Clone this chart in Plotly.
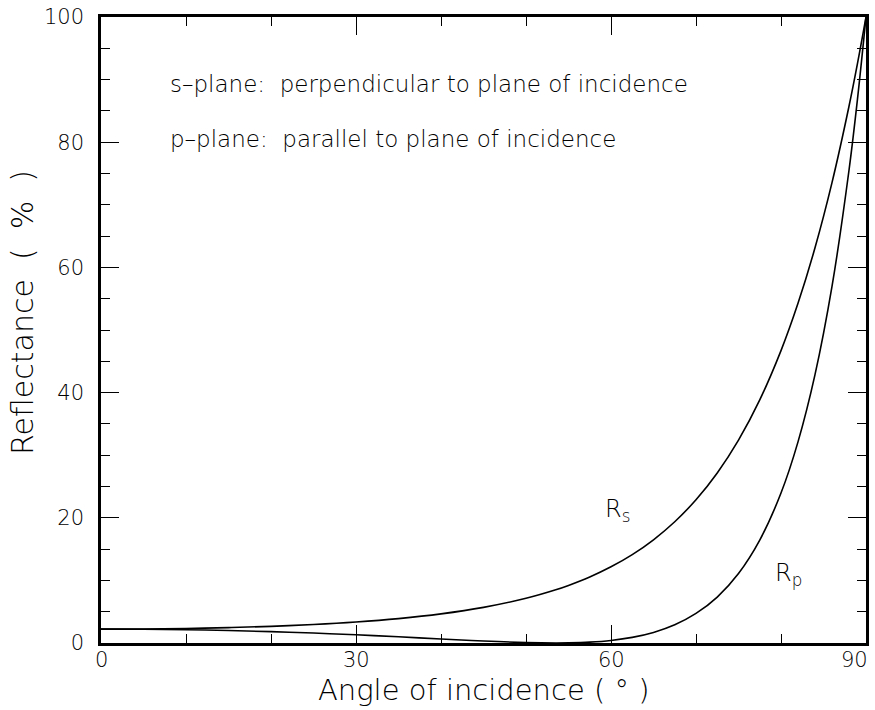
import plotly.graph_objects as go

# Angle of incidence (degrees)
angle = [0, 5, 10, 15, 20, 25, 30, 35, 40, 45, 50, 53.5, 55, 57.5, 60, 62.5, 65,
         67.5, 70, 72.5, 75, 77.5, 80, 82, 84, 86, 88, 89, 90]
# Reflectance (%) s-plane
rs = [2.22, 2.24, 2.32, 2.46, 2.66, 2.95, 3.35, 3.90, 4.65, 5.69, 7.14, 8.50, 9.20,
      10.55, 12.17, 14.12, 16.49, 19.37, 22.88, 27.17, 32.41, 38.84, 46.71, 54.26,
      63.13, 73.54, 85.74, 92.59, 100.0]
# Reflectance (%) p-plane
rp = [2.22, 2.19, 2.12, 1.99, 1.81, 1.59, 1.31, 0.99, 0.65, 0.32, 0.07, 0.0, 0.02,
      0.14, 0.41, 0.90, 1.69, 2.91, 4.72, 7.34, 11.10, 16.44, 23.96, 32.13, 42.86,
      56.96, 75.52, 86.91, 100.0]

x_ticks = [0, 30, 60, 90]
x_labels = ["0", "30", "60", "90"]
y_ticks = [0, 20, 40, 60, 80, 100]
y_labels = ["0", "20", "40", "60", "80", "100"]

FONT = "DejaVu Sans"
W, H = 875, 710
L, R, T, B = 101, 9, 17, 67
PW, PH = W - L - R, H - T - B

fig = go.Figure()
fig.add_trace(go.Scatter(x=angle, y=rs, mode="lines", line=dict(color="black", width=1.6, shape="spline"),
                         showlegend=False, hoverinfo="skip"))
fig.add_trace(go.Scatter(x=angle, y=rp, mode="lines", line=dict(color="black", width=1.6, shape="spline"),
                         showlegend=False, hoverinfo="skip"))

tick_font = dict(family=FONT, size=21, color="black", weight=300)
axis_common = dict(
    showline=True, linecolor="black", linewidth=2.5, mirror="allticks",
    ticks="inside", ticklen=18, tickwidth=1.3, tickcolor="black",
    showgrid=False, zeroline=False, automargin=False,
    tickfont=tick_font,
)

fig.update_xaxes(range=[0, 90], tickvals=x_ticks, showticklabels=False,
                 minor=dict(dtick=10, ticklen=9, ticks="inside", tickcolor="black", tickwidth=1.3, showgrid=False),
                 **axis_common)
fig.update_yaxes(range=[0, 100], tickvals=y_ticks, ticktext=y_labels, ticklabelstandoff=10,
                 minor=dict(dtick=5, ticklen=9, ticks="inside", tickcolor="black", tickwidth=1.3, showgrid=False),
                 **axis_common)

# x tick labels (the last one right-aligned to the frame as in the reference)
for v, lab in zip(x_ticks, x_labels):
    last = v == x_ticks[-1]
    fig.add_annotation(x=v, y=0, xref="x", yref="y", text=lab, showarrow=False,
                       xanchor="right" if last else "center", yanchor="middle",
                       xshift=4 if last else 0, yshift=-17, font=tick_font)

# axis titles
fig.add_annotation(x=0.5, y=(643 - 690) / PH, xref="paper", yref="paper",
                   text="Angle of incidence ( ° )", showarrow=False,
                   xanchor="center", yanchor="middle",
                   font=dict(family=FONT, size=29, color="black", weight=300))
fig.add_annotation(x=(22 - L) / PW, y=(643 - 313) / PH, xref="paper", yref="paper",
                   text="Reflectance  (  %  )", showarrow=False, textangle=-90,
                   xanchor="center", yanchor="middle",
                   font=dict(family=FONT, size=30, color="black", weight=300))

ann_font = dict(family=FONT, size=23, color="black", weight=300)
fig.add_annotation(x=7.9, y=89.3, xref="x", yref="y", text="s–plane:  perpendicular to plane of incidence",
                   showarrow=False, xanchor="left", yanchor="middle", font=ann_font)
fig.add_annotation(x=7.9, y=80.5, xref="x", yref="y", text="p–plane:  parallel to plane of incidence",
                   showarrow=False, xanchor="left", yanchor="middle", font=ann_font)
lab_font = dict(family=FONT, size=24, color="black", weight=300)
fig.add_annotation(x=59.0, y=21.2, xref="x", yref="y", text="R<sub>s</sub>",
                   showarrow=False, xanchor="left", yanchor="middle", font=lab_font)
fig.add_annotation(x=79.0, y=10.9, xref="x", yref="y", text="R<sub>p</sub>",
                   showarrow=False, xanchor="left", yanchor="middle", font=lab_font)

fig.update_layout(
    width=W, height=H,
    margin=dict(l=L, r=R, t=T, b=B, autoexpand=False),
    paper_bgcolor="white", plot_bgcolor="white",
    font=dict(family=FONT, color="black"),
)

fig.write_html(
    "out.html",
    config={"displayModeBar": False},
    post_script="document.body.style.margin='0';document.body.style.overflow='hidden';",
)
